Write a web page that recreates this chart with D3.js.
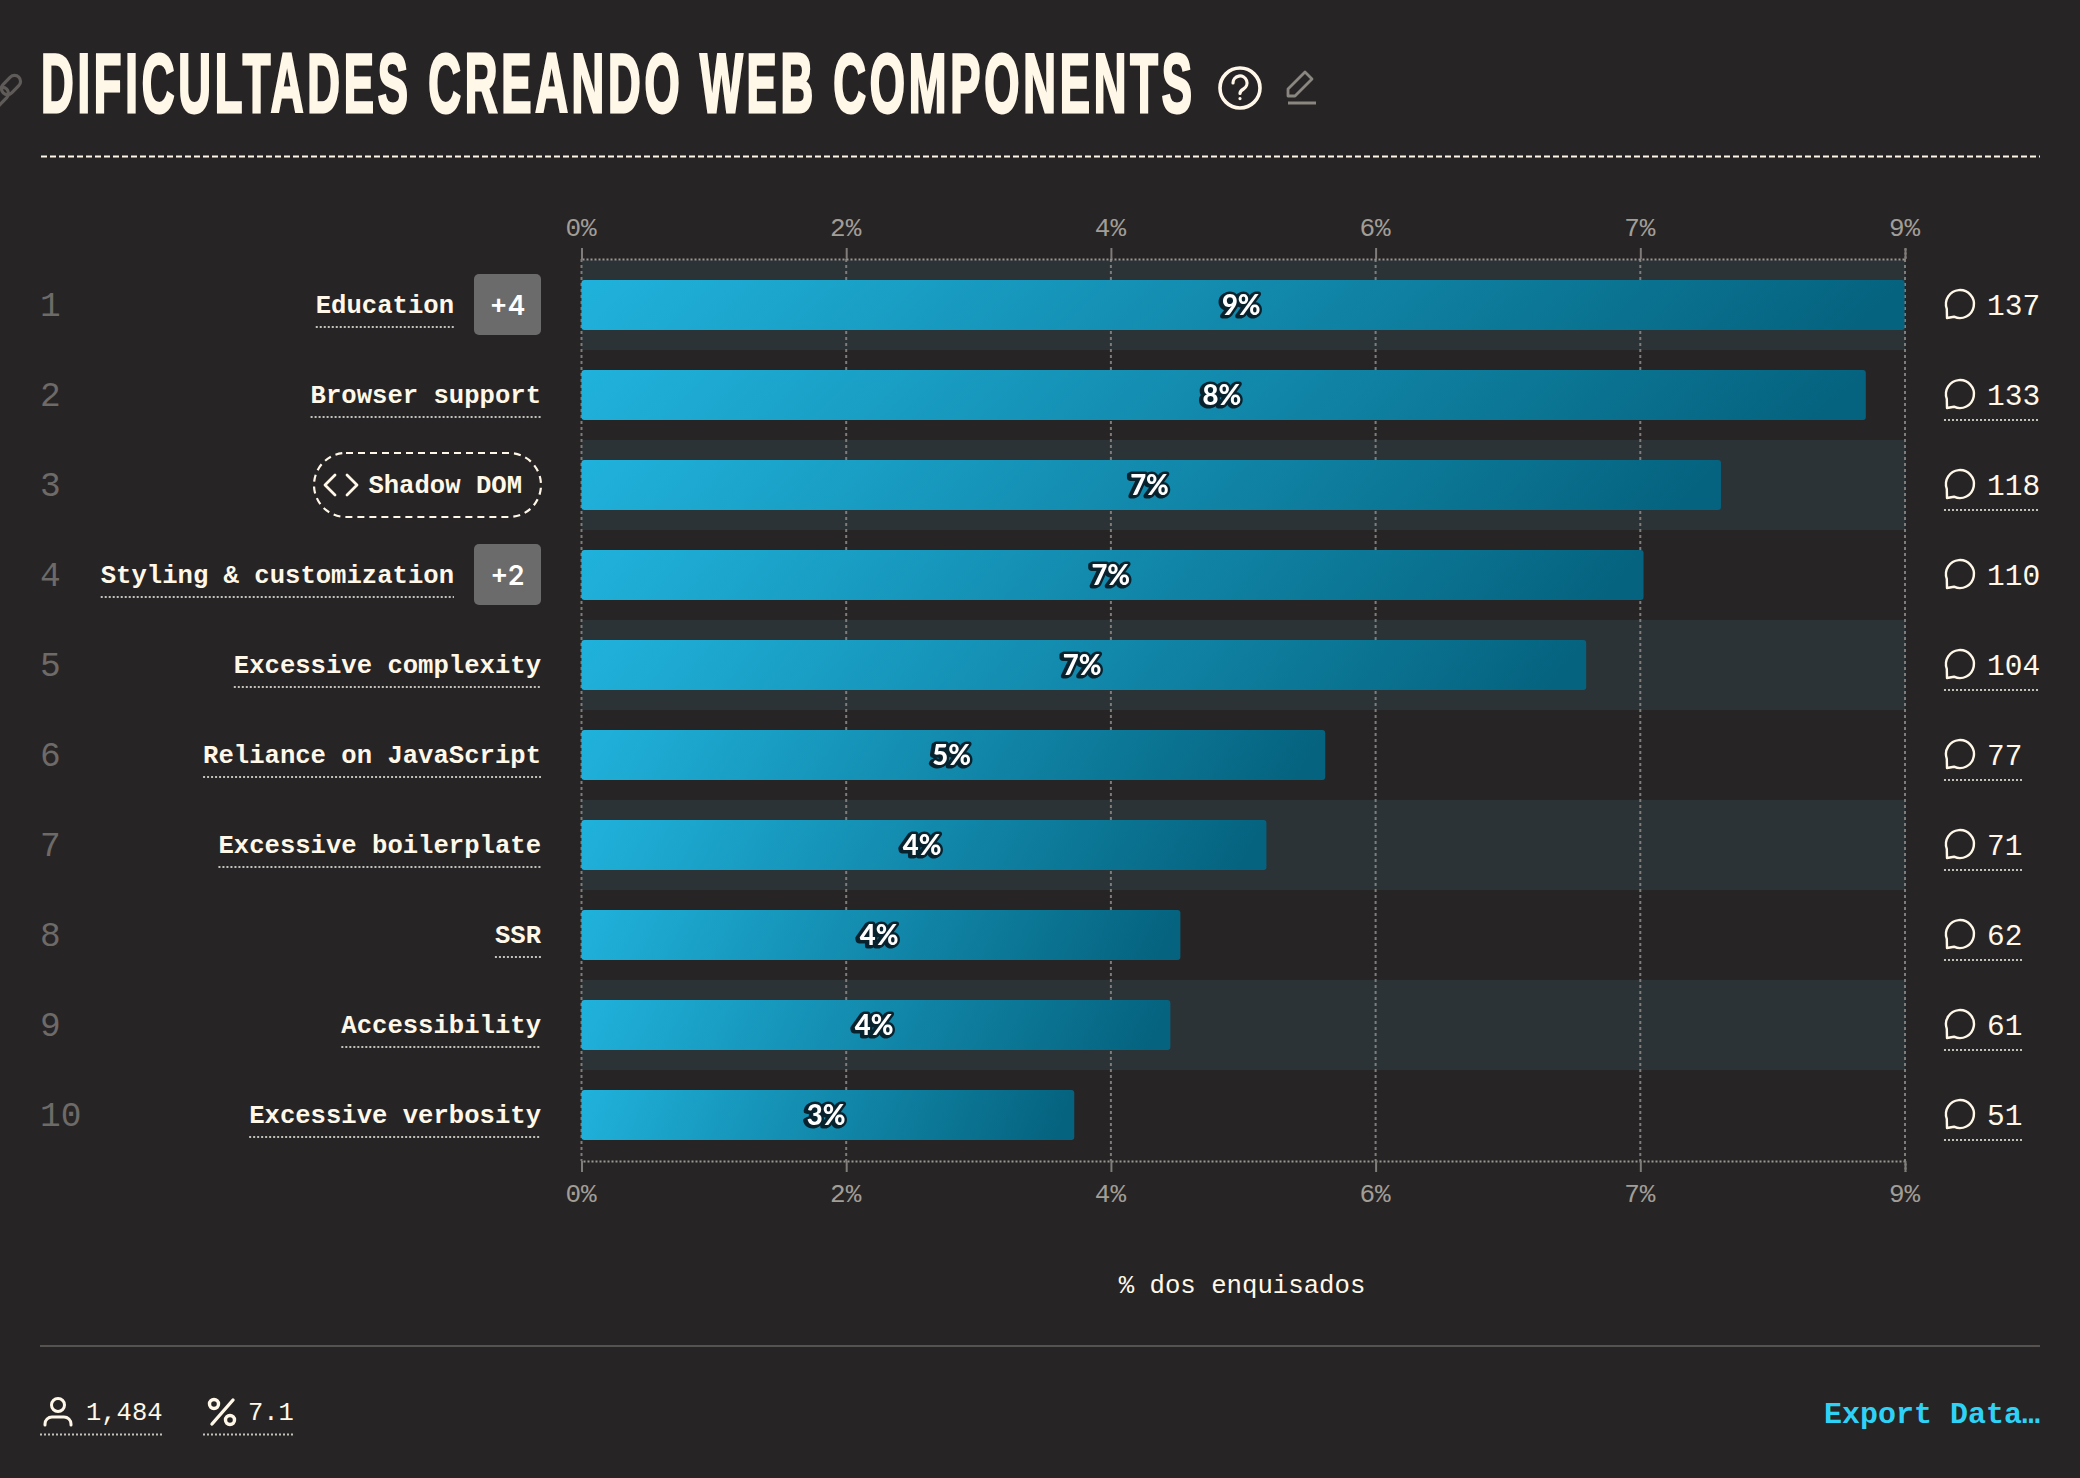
<!DOCTYPE html>
<html lang="en">
<head>
<meta charset="UTF-8">
<title>Dificultades creando web components</title>
<script src="https://d3js.org/d3.v7.min.js"></script>
<style>
  html, body { margin: 0; padding: 0; background: #272425; }
  svg { display: block; }
  text { font-family: "Liberation Mono", monospace; fill: #fff8e9; }
  .tick-label { font-size: 26px; fill: #a19d97; }
  .dotted { stroke: #c4c1bb; stroke-width: 2; stroke-dasharray: 2 2; fill: none; }
  .axis-line { stroke: #9a9792; stroke-width: 2; stroke-dasharray: 2 2; fill: none; }
  .grid { stroke: #7f7c79; stroke-width: 2; stroke-dasharray: 3 3; }
  .icon { fill: none; stroke: #fff8e9; stroke-width: 2.4; stroke-linecap: round; stroke-linejoin: round; }
</style>
</head>
<body>
<svg id="chart" width="2080" height="1478"></svg>
<script>
const categories = ["Education", "Browser support", "Shadow DOM", "Styling & customization", "Excessive complexity",
  "Reliance on JavaScript", "Excessive boilerplate", "SSR", "Accessibility", "Excessive verbosity"];
const percents = [9.23, 8.96, 7.95, 7.41, 7.01, 5.19, 4.78, 4.18, 4.11, 3.44];
const percentLabels = ["9%", "8%", "7%", "7%", "7%", "5%", "4%", "4%", "4%", "3%"];
const counts = [137, 133, 118, 110, 104, 77, 71, 62, 61, 51];
const badges = ["+4", null, null, "+2", null, null, null, null, null, null];
const tickValues = [0, 1.846, 3.692, 5.538, 7.384, 9.23];
const tickLabels = ["0%", "2%", "4%", "6%", "7%", "9%"];

const svg = d3.select("#chart");
const cream = "#fff8e9";

const x = d3.scaleLinear().domain([0, 9.23]).range([581.5, 1905]);
const y = d3.scaleBand().domain(categories).range([260, 1160]).paddingInner(4 / 9).paddingOuter(2 / 9);
const rowH = y.step();

// bar gradient
const grad = svg.append("defs").append("linearGradient")
  .attr("id", "barGrad").attr("x1", "0%").attr("y1", "0%").attr("x2", "100%").attr("y2", "4%");
grad.append("stop").attr("offset", "0%").attr("stop-color", "#20b2dc");
grad.append("stop").attr("offset", "100%").attr("stop-color", "#05637f");

// header: squeeze the glyphs and open up the spacing to get a condensed display look
const title = svg.append("text").text("DIFICULTADES CREANDO WEB COMPONENTS")
  .style("font-family", "'Liberation Sans Narrow', 'Liberation Sans', sans-serif")
  .style("font-weight", 700).style("font-size", "84px");
const titleSpacing = 3.8;
const titleScale = (1151 - 34 * titleSpacing) / title.node().getComputedTextLength();
title.attr("transform", `translate(41,112) scale(${titleScale},1)`)
  .style("letter-spacing", (titleSpacing / titleScale) + "px")
  .style("stroke", cream).style("stroke-width", 3);

// link icon, cut by the page edge
svg.append("g").selectAll("rect").data([[11, 85], [-1, 97]]).join("rect")
  .attr("transform", d => `translate(${d[0]},${d[1]}) rotate(-45)`)
  .attr("x", -11).attr("y", -6).attr("width", 22).attr("height", 12).attr("rx", 6)
  .attr("fill", "none").attr("stroke", "#5e5b59").attr("stroke-width", 3.2);

svg.append("circle").attr("class", "icon").attr("cx", 1240).attr("cy", 88).attr("r", 20).style("stroke-width", 3.6);
svg.append("path").attr("class", "icon").style("stroke-width", 3.2)
  .attr("d", "M1233 83 a7 7 0 1 1 10.5 6 q-3.5 2 -3.5 4.5 M1240 98.5 L1240 98.6");

svg.append("path").attr("class", "icon").style("stroke", "#8a8680").style("stroke-width", 2.8)
  .attr("d", "M1288 96 L1288 89 L1305 72 L1312 79 L1295 96 Z");
svg.append("line").attr("x1", 1288).attr("x2", 1316).attr("y1", 103).attr("y2", 103)
  .style("stroke", "#8a8680").style("stroke-width", 3);

svg.append("line").attr("x1", 41).attr("x2", 2040).attr("y1", 156.5).attr("y2", 156.5)
  .style("stroke", cream).style("stroke-width", 2).style("stroke-dasharray", "6 3");

// alternating row bands
svg.append("g").selectAll("rect")
  .data(categories.filter((d, i) => i % 2 === 0))
  .join("rect")
  .attr("x", x(0)).attr("width", x(9.23) - x(0))
  .attr("y", d => y(d) - 20).attr("height", rowH)
  .attr("fill", "#2c3337");

// grid and axes
svg.append("g").selectAll("line")
  .data(tickValues)
  .join("line")
  .attr("class", "grid")
  .attr("x1", d => x(d)).attr("x2", d => x(d)).attr("y1", 259).attr("y2", 1161);

function styleAxis(g) {
  g.select(".domain").attr("class", "axis-line domain").attr("stroke", null);
  g.selectAll(".tick line").attr("stroke", "#7f7c79").attr("stroke-width", 2);
  g.selectAll(".tick text").attr("class", "tick-label").attr("fill", null).attr("dx", -1);
}
svg.append("g").attr("transform", "translate(0,259)")
  .call(d3.axisTop(x).tickValues(tickValues).tickFormat((d, i) => tickLabels[i]).tickSizeOuter(0).tickSize(11).tickPadding(12))
  .call(styleAxis);
svg.append("g").attr("transform", "translate(0,1161)")
  .call(d3.axisBottom(x).tickValues(tickValues).tickFormat((d, i) => tickLabels[i]).tickSizeOuter(0).tickSize(11).tickPadding(12))
  .call(styleAxis);

// bars
const rows = categories.map((name, i) => ({ name, i, pct: percents[i], label: percentLabels[i], count: counts[i], badge: badges[i] }));

svg.append("g").selectAll("rect")
  .data(rows)
  .join("rect")
  .attr("x", x(0)).attr("y", d => y(d.name))
  .attr("width", d => x(d.pct) - x(0) - 0.5).attr("height", y.bandwidth())
  .attr("rx", 3).attr("fill", "url(#barGrad)");

svg.append("g").selectAll("text")
  .data(rows)
  .join("text")
  .text(d => d.label)
  .attr("x", d => (x(0) + x(d.pct)) / 2 - 2)
  .attr("y", d => y(d.name) + 35)
  .attr("text-anchor", "middle")
  .style("font-family", "Lato, sans-serif").style("font-weight", 900).style("font-size", "27.5px")
  .style("fill", "#fff").style("stroke", "#08222e").style("stroke-width", 5)
  .style("paint-order", "stroke").style("stroke-linejoin", "round")
  .style("filter", "drop-shadow(-1.5px 1.5px 0 #08222e)");

// rank numbers
svg.append("g").selectAll("text")
  .data(rows)
  .join("text")
  .text(d => d.i + 1)
  .attr("x", 40).attr("y", d => y(d.name) + 36)
  .style("font-size", "34.5px").style("fill", "#6d6a67");

// category labels, right aligned with a dotted underline
const labelEnd = d => d.badge ? 454 : (d.name === "Shadow DOM" ? 522 : 541);
const labels = svg.append("g").selectAll("g")
  .data(rows)
  .join("g");
labels.append("text")
  .text(d => d.name)
  .attr("x", labelEnd).attr("y", d => y(d.name) + 33)
  .attr("text-anchor", "end")
  .style("font-size", "25.6px").style("font-weight", 700);
labels.filter(d => d.name !== "Shadow DOM").append("line")
  .attr("class", "dotted")
  .attr("x2", labelEnd)
  .attr("x1", d => labelEnd(d) - d.name.length * 15.36)
  .attr("y1", d => y(d.name) + 47).attr("y2", d => y(d.name) + 47);

// +n badges
const badge = svg.append("g").selectAll("g").data(rows.filter(d => d.badge)).join("g");
badge.append("rect").attr("x", 474).attr("width", 67).attr("y", d => y(d.name) - 6).attr("height", 61)
  .attr("rx", 5).attr("fill", "#6b6b6b");
badge.append("text").text(d => d.badge).attr("x", 507.5).attr("y", d => y(d.name) + 35)
  .attr("text-anchor", "middle")
  .style("font-family", "Inter, sans-serif").style("font-size", "27px").style("font-weight", 600).style("fill", "#fff");

// Shadow DOM pill
const shadowY = y("Shadow DOM");
svg.append("rect").attr("x", 314).attr("y", shadowY - 7).attr("width", 227).attr("height", 64).attr("rx", 32)
  .attr("fill", "none").attr("stroke", cream).attr("stroke-width", 2.2).attr("stroke-dasharray", "7 5");
svg.append("path").attr("class", "icon").style("stroke-width", 2.8)
  .attr("d", `M335 ${shadowY + 15} l-10 10 l10 10 M347 ${shadowY + 15} l10 10 l-10 10`);

// comment counts on the right
const countG = svg.append("g").selectAll("g").data(rows).join("g")
  .attr("transform", d => `translate(0,${y(d.name) + 25})`);
countG.append("path").attr("class", "icon")
  .attr("d", "M1946.8 3.8 L1947 13 L1954 11.7 A14 14 0 1 0 1946.8 3.8 Z");
countG.append("text").text(d => d.count)
  .attr("x", 1987).attr("y", 10)
  .style("font-size", "29.5px");
countG.filter(d => !d.badge).append("line")
  .attr("class", "dotted")
  .attr("x1", 1944).attr("x2", d => d.count > 99 ? 2040 : 2022)
  .attr("y1", 25).attr("y2", 25);

// axis title
svg.append("text").text("% dos enquisados").attr("x", 1242).attr("y", 1293)
  .attr("text-anchor", "middle").style("font-size", "25.7px");

// footer
svg.append("line").attr("x1", 40).attr("x2", 2040).attr("y1", 1346).attr("y2", 1346)
  .style("stroke", "#555250").style("stroke-width", 2);

svg.append("circle").attr("class", "icon").attr("cx", 58).attr("cy", 1405).attr("r", 6.5).style("stroke-width", 3);
svg.append("path").attr("class", "icon").style("stroke-width", 3)
  .attr("d", "M45 1425 L45 1424 A7 7 0 0 1 52 1417 L64 1417 A7 7 0 0 1 71 1424 L71 1425");
svg.append("text").text("1,484").attr("x", 86).attr("y", 1420).style("font-size", "25.5px");
svg.append("line").attr("class", "dotted").attr("x1", 40).attr("x2", 163).attr("y1", 1434.5).attr("y2", 1434.5);

svg.append("circle").attr("class", "icon").attr("cx", 214).attr("cy", 1404).attr("r", 4.5).style("stroke-width", 3.4);
svg.append("circle").attr("class", "icon").attr("cx", 230).attr("cy", 1420).attr("r", 4.5).style("stroke-width", 3.4);
svg.append("path").attr("class", "icon").style("stroke-width", 3.4).attr("d", "M233 1400 L212 1424");
svg.append("text").text("7.1").attr("x", 248).attr("y", 1420).style("font-size", "25.5px");
svg.append("line").attr("class", "dotted").attr("x1", 203).attr("x2", 295).attr("y1", 1434.5).attr("y2", 1434.5);

svg.append("text").text("Export Data…").attr("x", 2040).attr("y", 1423).attr("text-anchor", "end")
  .style("font-size", "30px").style("font-weight", 700).style("fill", "#2fd2f7");
</script>
</body>
</html>
